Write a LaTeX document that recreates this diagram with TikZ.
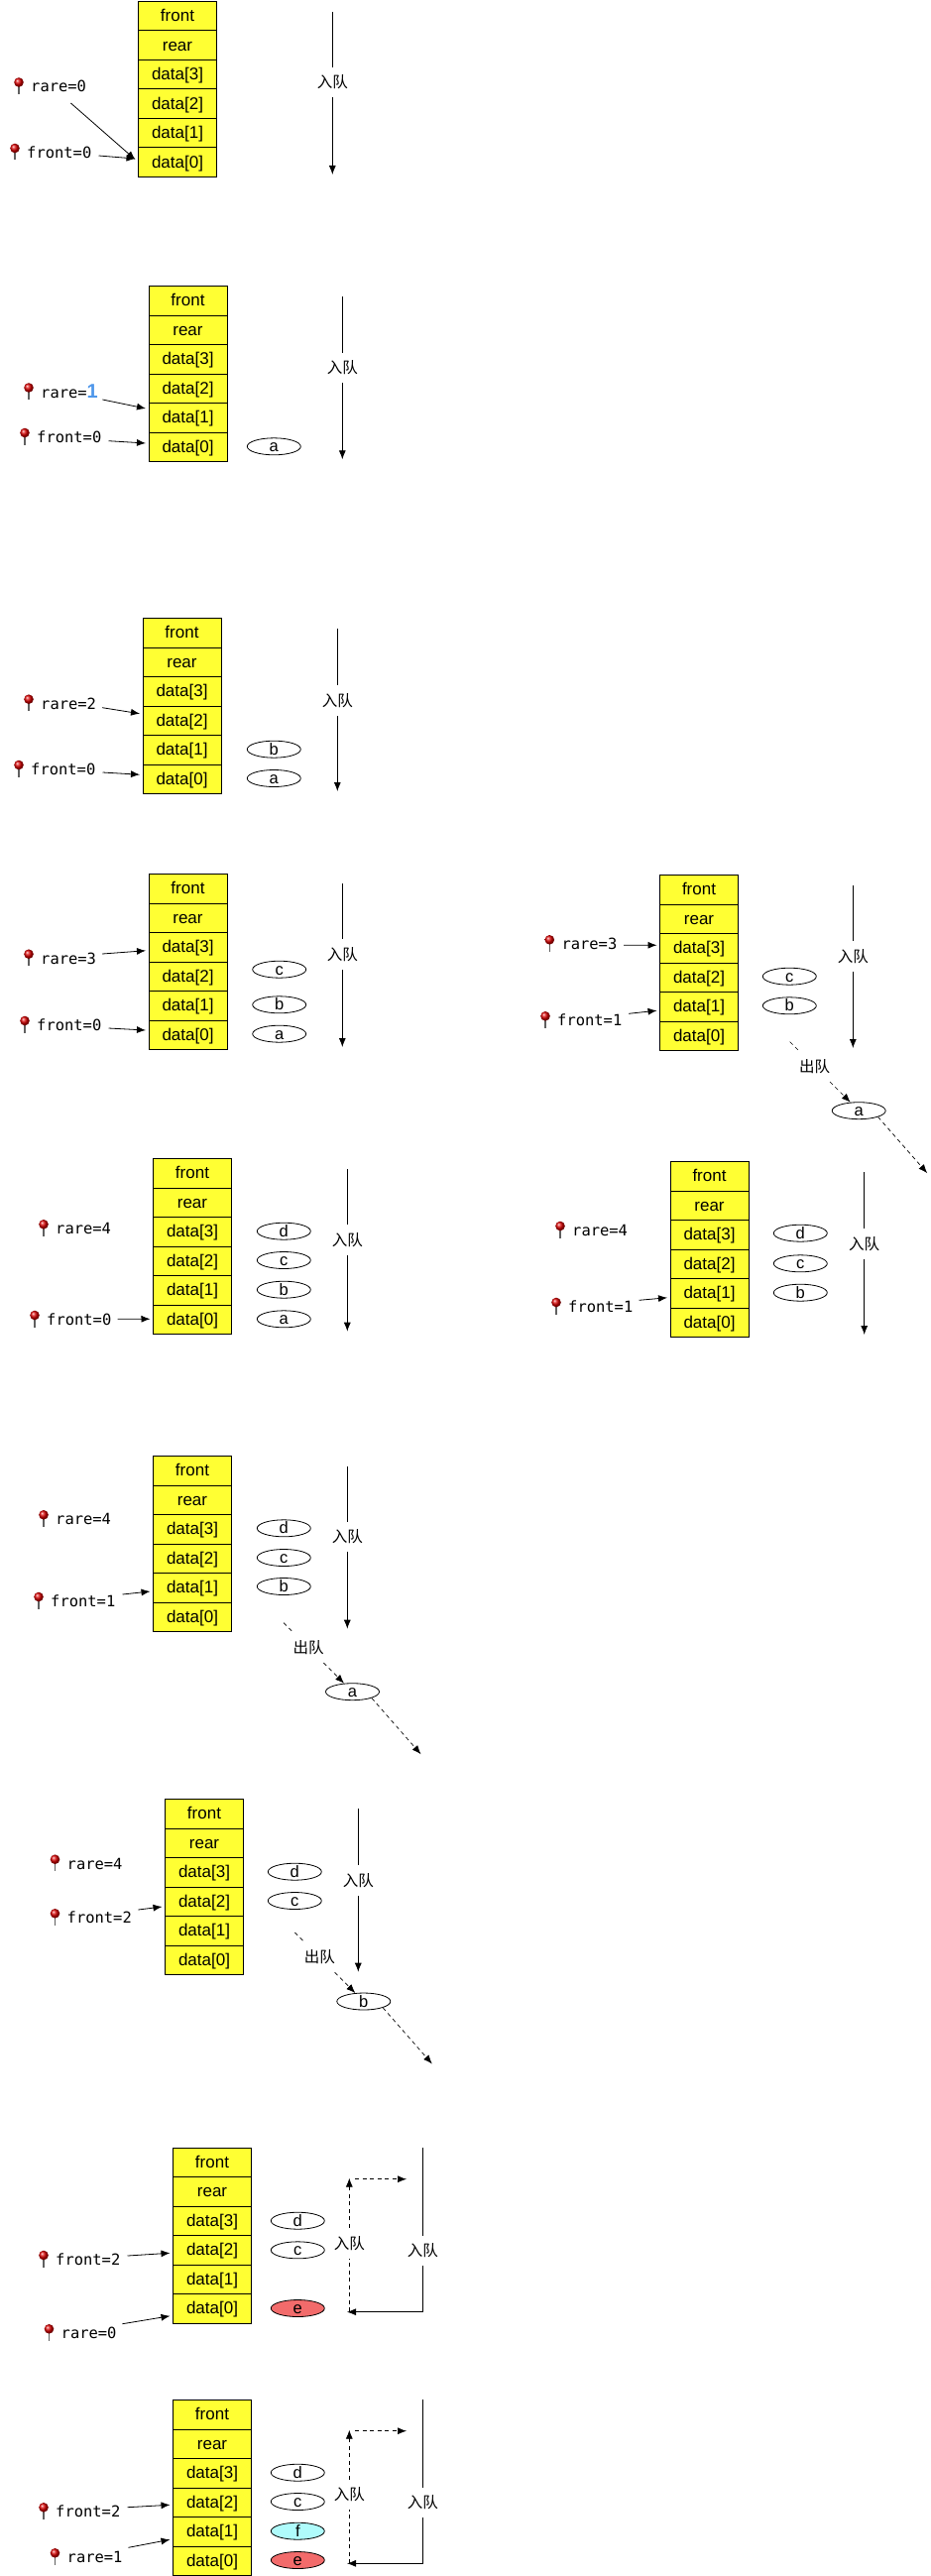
\documentclass[tikz,border=0pt]{standalone}
\usepackage{fontspec}
\setmainfont{Liberation Sans}
\setmonofont{DejaVu Sans Mono}
\newfontfamily\cjk{Noto Sans CJK SC}
\usetikzlibrary{arrows.meta, shapes.geometric}
\definecolor{cellyellow}{HTML}{FFFF33}
\definecolor{elemred}{HTML}{F26B6B}
\definecolor{elemcyan}{HTML}{AFFBFB}
\definecolor{markblue}{HTML}{4F97EA}
\tikzset{
  qcell/.style={draw, line width=1, fill=cellyellow, minimum width=79, minimum height=29.5,
    inner sep=0, text height=12.8, text depth=2.2, font=\fontsize{17}{19}\selectfont},
  qelem/.style={draw, ellipse, line width=.8, minimum width=54, minimum height=17, inner sep=0,
    text height=11, text depth=0, font=\fontsize{16.5}{18}\selectfont},
  qlabel/.style={inner xsep=0, inner ysep=8, font={\cjk\fontsize{15.5}{17}\selectfont}},
  ptrlabel/.style={anchor=west, inner sep=0, text height=11, text depth=0,
    font={\ttfamily\fontsize{15.45}{17}\selectfont}},
  arr/.style={line width=.8, -{Latex[length=9,width=7]}},
  dashline/.style={line width=.7, dash pattern=on 4 off 3.5},
  dasharr/.style={dashline, -{Latex[length=9,width=7]}}
}
% one queue block: name, left, top
\newcommand{\qstack}[3]{
  \foreach \c/\t [count=\i from 0] in {f/front,r/rear,d3/data[3],d2/data[2],d1/data[1],d0/data[0]}
    \node[qcell] (#1\c) at ({#2+39.5},{#3+(\i+.5)*29.5}) {\t};
}
% pin and its text: name, x, y, text
\newcommand{\ptr}[4]{
  \draw[gray!75!black, line width=1.4] ({#2-12},{#3-3}) -- ({#2-12},{#3+7.5});
  \shade[ball color=red!85!black] ({#2-12},{#3-4.5}) circle (4.8);
  \node[ptrlabel] (#1) at (#2,#3) {#4};
}
% pointer arrow: label, dx, dy, cell, dy
\newcommand{\link}[5]{
  \draw[arr] ([shift={(#2,#3)}]#1.east) -- ([shift={(-2.5,#5)}]#4.west);
}
% enqueue arrow: name, x, top, bottom, label y
\newcommand{\enq}[5]{
  \coordinate (#1t) at (#2,#3);
  \coordinate (#1b) at (#2,#4);
  \node[qlabel] (#1) at (#2,#5) {入队};
  \draw[line width=.8] (#1t) -- (#1);
  \draw[arr] (#1) -- (#1b);
}
% dequeue arrow: name, start x, start y, letter
\newcommand{\deq}[4]{
  \coordinate (#1s) at (#2,#3);
  \coordinate (#1e) at ({#2+138.5},{#3+132.5});
  \node[qlabel] (#1) at ({#2+25},{#3+25}) {出队};
  \node[qelem] (#1x) at ({#2+69.5},{#3+69.5}) {#4};
  \draw[dashline] (#1s) -- (#1);
  \draw[dasharr] (#1) -- (#1x);
  \draw[dasharr] (#1x.south east) -- (#1e);
}
\begin{document}
\begin{tikzpicture}[x=1pt, y=-1pt]
  \useasboundingbox (0,0) rectangle (938,2598);
  % Empty queue
  \qstack{A}{139.5}{1.5}
  \ptr{Arare}{31}{87.5}{rare=0}
  \ptr{Afront}{27}{154}{front=0}
  \link{Arare}{-15.8}{16.5}{Ad0}{-2.75}
  \link{Afront}{7}{3}{Ad0}{-3.75}
  \enq{Aenq}{335.3}{12}{176}{83}
  % a in
  \qstack{B}{150}{288.5}
  \ptr{Brare}{41}{395.5}{rare=\textcolor{markblue}{\normalfont\bfseries\fontsize{20}{20}\selectfont 1}}
  \ptr{Bfront}{37}{441}{front=0}
  \link{Brare}{4.4}{7.5}{Bd1}{-9.25}
  \link{Bfront}{7}{3.7}{Bd0}{-3.75}
  \enq{Benq}{345.3}{299}{463.3}{371}
  \node[qelem] (Ba) at (276.3,450.3) {a};
  % b in
  \qstack{C}{144}{623.5}
  \ptr{Crare}{41}{709.7}{rare=2}
  \ptr{Cfront}{31}{776}{front=0}
  \link{Crare}{6}{4}{Cd2}{-7}
  \link{Cfront}{7}{3}{Cd0}{-4.5}
  \enq{Cenq}{340.3}{633.7}{798}{706.7}
  \node[qelem] (Cb) at (276.3,755.7) {b};
  \node[qelem] (Ca) at (276.3,785) {a};
  % c in
  \qstack{D}{150}{881.5}
  \ptr{Drare}{41}{966.7}{rare=3}
  \ptr{Dfront}{37}{1034}{front=0}
  \link{Drare}{6}{-4.7}{Dd3}{3.5}
  \link{Dfront}{7}{3}{Dd0}{-4.75}
  \enq{Denq}{345.3}{891}{1056}{962.7}
  \node[qelem] (Dc) at (281.7,977.7) {c};
  \node[qelem] (Db) at (281.7,1013.3) {b};
  \node[qelem] (Da) at (281.7,1042.7) {a};
  % a out, right column
  \qstack{E}{665.5}{882.5}
  \ptr{Erare}{566.3}{952.3}{rare=3}
  \ptr{Efront}{562}{1029.3}{front=1}
  \link{Erare}{6.6}{1}{Ed3}{-3}
  \link{Efront}{6.6}{-7}{Ed1}{4}
  \enq{Eenq}{860.3}{892.7}{1057}{964.3}
  \node[qelem] (Ec) at (796.3,984.7) {c};
  \node[qelem] (Eb) at (796.3,1014.3) {b};
  \deq{Edeq}{796.7}{1050.7}{a}
  % d in
  \qstack{F}{154.5}{1168.5}
  \ptr{Frare}{56}{1239.3}{rare=4}
  \ptr{Ffront}{47}{1331}{front=0}
  \link{Ffront}{6}{-.7}{Fd0}{-.5}
  \enq{Fenq}{350.3}{1179}{1342.7}{1250.7}
  \node[qelem] (Fd) at (286.3,1241.7) {d};
  \node[qelem] (Fc) at (286.3,1271) {c};
  \node[qelem] (Fb) at (286.3,1300.7) {b};
  \node[qelem] (Fa) at (286.3,1330.3) {a};
  % a gone, right column
  \qstack{G}{676}{1171.5}
  \ptr{Grare}{577}{1241}{rare=4}
  \ptr{Gfront}{573}{1318}{front=1}
  \link{Gfront}{6}{-6.7}{Gd1}{4.5}
  \enq{Genq}{871.7}{1182}{1346}{1254.3}
  \node[qelem] (Gd) at (807.3,1243.7) {d};
  \node[qelem] (Gc) at (807.3,1274.3) {c};
  \node[qelem] (Gb) at (807.3,1303.7) {b};
  % a out
  \qstack{H}{154.5}{1468.5}
  \ptr{Hrare}{56}{1532.3}{rare=4}
  \ptr{Hfront}{51}{1615}{front=1}
  \link{Hfront}{7}{-7}{Hd1}{3.75}
  \enq{Henq}{350.3}{1478.7}{1642.7}{1550}
  \node[qelem] (Hd) at (286.3,1541.3) {d};
  \node[qelem] (Hc) at (286.3,1571) {c};
  \node[qelem] (Hb) at (286.3,1600) {b};
  \deq{Hdeq}{286}{1636.7}{a}
  % b out
  \qstack{I}{166.5}{1814.5}
  \ptr{Irare}{67.5}{1879.7}{rare=4}
  \ptr{Ifront}{67.5}{1934.3}{front=2}
  \link{Ifront}{6.4}{-8.3}{Id2}{5.25}
  \enq{Ienq}{361.3}{1824.3}{1988.7}{1896.7}
  \node[qelem] (Id) at (297.3,1887.7) {d};
  \node[qelem] (Ic) at (297.3,1917) {c};
  \deq{Ideq}{297.3}{1949}{b}
  % e wraps round to data[0]
  \qstack{J}{174.5}{2166}
  \ptr{Jfront}{56}{2279}{front=2}
  \ptr{Jrare}{61.5}{2353.3}{rare=0}
  \link{Jfront}{7}{-4}{Jd2}{3}
  \link{Jrare}{5.7}{-9.6}{Jd0}{7.5}
  \node[qelem] (Jd) at (300.3,2239.7) {d};
  \node[qelem] (Jc) at (300.3,2269.3) {c};
  \node[qelem, fill=elemred] (Je) at (300.3,2328) {e};
  \coordinate (Jtop) at (426.3,2166.3);
  \coordinate (Jelbow) at (426.3,2331.7);
  \coordinate (Jin) at (350,2331.7);
  \node[qlabel] (Jenq) at (426.3,2270) {入队};
  \draw[line width=.8] (Jtop) -- (Jenq);
  \draw[arr] (Jenq) -- (Jelbow) -- (Jin);
  \coordinate (Jlow) at (352.3,2331);
  \coordinate (Jup) at (352.3,2196.7);
  \coordinate (Jhi) at (358,2197.7);
  \coordinate (Jend) at (410,2197.7);
  \node[qlabel] (Jloop) at (352.3,2262.3) {入队};
  \draw[dashline] (Jlow) -- (Jloop);
  \draw[dasharr] (Jloop) -- (Jup);
  \draw[dasharr] (Jhi) -- (Jend);
  % f wraps round to data[1]
  \qstack{K}{174.5}{2420.5}
  \ptr{Kfront}{56}{2533.3}{front=2}
  \ptr{Krare}{67.5}{2579.3}{rare=1}
  \link{Kfront}{7}{-4.6}{Kd2}{2.5}
  \link{Krare}{5.7}{-10}{Kd1}{8}
  \node[qelem] (Kd) at (300.3,2493.7) {d};
  \node[qelem] (Kc) at (300.3,2523) {c};
  \node[qelem, fill=elemcyan] (Kf) at (300.3,2552.7) {f};
  \node[qelem, fill=elemred] (Ke) at (300.3,2582) {e};
  \coordinate (Ktop) at (426.3,2420.3);
  \coordinate (Kelbow) at (426.3,2585.3);
  \coordinate (Kin) at (350,2585.3);
  \node[qlabel] (Kenq) at (426.3,2524) {入队};
  \draw[line width=.8] (Ktop) -- (Kenq);
  \draw[arr] (Kenq) -- (Kelbow) -- (Kin);
  \coordinate (Klow) at (352.3,2585);
  \coordinate (Kup) at (352.3,2450.7);
  \coordinate (Khi) at (358,2451.7);
  \coordinate (Kend) at (410,2451.7);
  \node[qlabel] (Kloop) at (352.3,2516) {入队};
  \draw[dashline] (Klow) -- (Kloop);
  \draw[dasharr] (Kloop) -- (Kup);
  \draw[dasharr] (Khi) -- (Kend);
\end{tikzpicture}
\end{document}
